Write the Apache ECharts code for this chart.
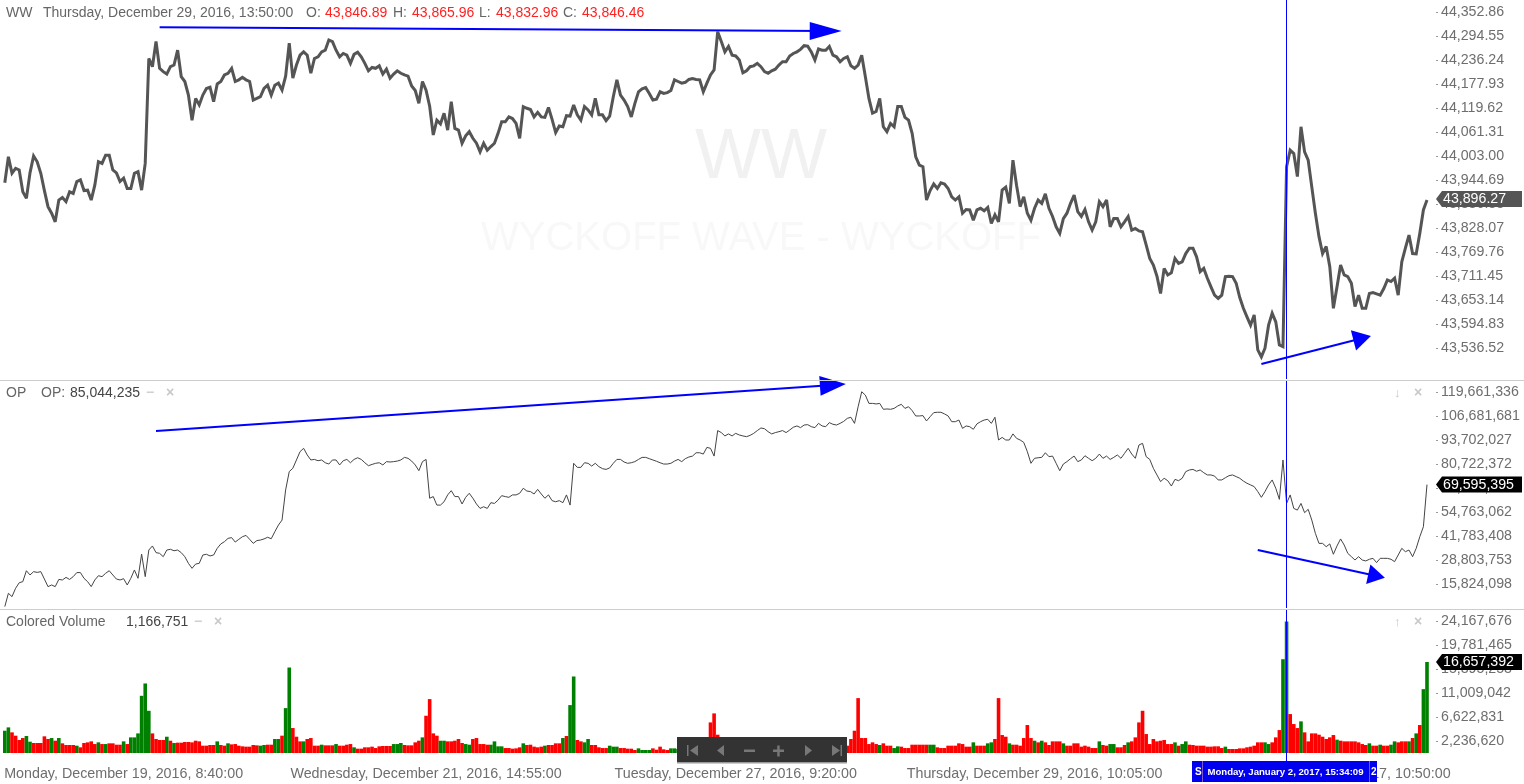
<!DOCTYPE html>
<html><head><meta charset="utf-8">
<style>html,body{margin:0;padding:0;background:#fff}#c{width:1524px;height:784px}</style>
<script src="https://cdn.jsdelivr.net/npm/echarts@6/dist/echarts.min.js"></script>
</head><body><div id="c"></div>
<script>
const wwValues = [43938,44001,43961,43973,43969,43916,43900,43962,44003,43989,43961,43919,43880,43864,43843,43896,43902,43892,43916,43912,43941,43945,43919,43920,43896,43932,43989,43985,44005,44005,43969,43962,43941,43949,43924,43924,43961,43965,43920,43985,44240,44220,44281,44216,44208,44202,44220,44224,44260,44196,44184,44151,44090,44143,44127,44151,44167,44170,44135,44178,44184,44200,44204,44216,44184,44188,44194,44188,44184,44139,44143,44147,44167,44175,44151,44175,44180,44163,44197,44277,44192,44224,44248,44256,44248,44204,44240,44244,44256,44260,44285,44281,44260,44244,44252,44248,44228,44250,44255,44244,44228,44210,44218,44216,44222,44202,44214,44192,44202,44210,44204,44200,44197,44173,44162,44131,44184,44163,44124,44054,44090,44081,44107,44066,44135,44070,44066,44034,44052,44062,44046,44034,44013,44034,44017,44026,44034,44058,44086,44086,44098,
44094,44082,44046,44123,44119,44116,44098,44109,44098,44097,44121,44092,44060,44076,44074,44101,44100,44127,44103,44090,44123,44115,44103,44143,44103,44103,44089,44100,44147,44188,44151,44139,44123,44098,44131,44159,44166,44169,44155,44139,44141,44159,44155,44157,44162,44188,44184,44180,44182,44189,44191,44189,44188,44159,44180,44200,44212,44305,44281,44256,44269,44248,44246,44236,44205,44210,44220,44222,44228,44220,44208,44204,44210,44214,44224,44232,44232,44246,44252,44256,44262,44271,44270,44256,44236,44263,44260,44260,44269,44248,44244,44232,44240,44244,44222,44216,44224,44248,44196,44143,44107,44111,44143,44074,44062,44082,44074,44123,44123,44097,44090,44058,44001,43981,43977,43896,43919,43935,43924,43938,43935,43924,43904,43896,43904,43864,43873,43872,43847,43872,43876,43870,43878,43839,43860,43843,43920,43927,43888,43993,43932,43880,
43904,43864,43847,43876,43896,43888,43911,43876,43856,43831,43815,43851,43864,43888,43908,43868,43856,43873,43843,43823,43843,43892,43880,43896,43831,43851,43851,43831,43843,43856,43823,43827,43821,43819,43787,43754,43738,43711,43669,43730,43714,43719,43754,43742,43746,43766,43779,43779,43758,43722,43730,43706,43685,43665,43657,43665,43710,43711,43710,43694,43659,43633,43612,43592,43617,43532,43515,43536,43592,43621,43600,43544,43540,43977,44017,44009,43953,44074,44013,43993,43928,43864,43807,43766,43783,43734,43633,43685,43738,43714,43710,43694,43637,43665,43633,43633,43669,43671,43668,43665,43681,43702,43698,43706,43665,43746,43779,43811,43766,43765,43815,43872,43896.27];

const opMillions = [3.6,10.8,9.0,13.5,16.5,17.1,23.0,20.7,22.5,22.1,22.5,18.5,14.4,15.3,14.4,18.3,18.0,19.4,18.3,19.8,22.0,22.0,18.9,17.1,14.4,18.0,20.3,19.8,21.6,23.0,20.7,18.5,18.0,18.7,15.3,18.9,23.4,18.9,32.0,19.8,34.2,36.4,32.8,32.4,30.6,34.2,34.6,33.8,34.2,32.8,30.6,27.0,24.3,26.6,27.0,31.5,31.9,31.0,31.5,35.1,37.5,38.7,40.5,40.9,38.5,40.0,41.4,42.1,40.0,37.8,39.3,39.6,40.2,41.1,40.3,44.1,47.7,50.4,66.7,76.6,78.4,82.9,87.4,89.2,85.6,82.9,83.2,82.5,82.9,81.4,80.7,82.9,82.9,80.2,82.5,83.2,81.4,83.2,84.1,83.2,81.4,79.8,80.5,81.1,81.4,80.2,82.0,81.8,82.0,82.3,82.9,84.3,83.8,82.3,80.2,77.1,82.0,83.2,62.2,63.1,58.5,58.5,60.3,64.0,66.3,63.1,63.1,59.1,62.7,64.9,62.2,59.1,56.7,57.6,56.7,59.8,59.4,61.2,63.6,63.1,62.7,
64.0,64.0,64.9,67.6,66.1,65.8,64.5,67.0,64.5,62.2,64.0,60.9,60.3,60.9,59.8,64.0,58.5,81.1,78.9,78.9,81.4,81.1,79.6,81.1,79.3,78.2,77.8,78.6,81.1,83.2,83.2,81.8,81.1,81.4,82.0,83.2,84.3,84.3,83.6,82.9,82.2,81.4,80.7,80.7,81.1,82.3,83.2,82.0,83.6,84.5,85.0,86.8,86.8,86.1,89.7,89.2,85.0,98.8,97.7,95.9,97.0,95.9,97.3,96.4,95.9,95.5,96.2,97.3,98.8,100.2,99.8,98.2,97.0,97.7,98.2,98.8,97.7,99.1,100.6,101.3,100.4,101.8,102.0,100.9,100.4,102.7,101.3,100.9,103.1,102.2,101.8,102.7,103.8,105.4,106.0,102.7,111.7,119.8,118.0,113.5,113.5,113.2,113.5,110.3,110.5,110.3,110.8,112.1,113.0,110.8,111.7,109.6,106.7,106.7,106.9,104.0,106.3,108.5,108.7,108.7,107.8,106.7,103.6,103.6,104.5,100.0,101.3,100.9,99.5,102.4,103.6,104.5,104.9,102.7,106.0,93.7,95.1,93.7,93.7,97.0,94.6,93.7,
92.4,87.4,81.1,83.8,84.1,84.3,86.8,84.7,85.0,81.1,77.1,80.7,82.0,83.6,85.0,82.0,82.9,85.2,83.8,82.5,83.8,86.1,83.8,85.0,83.2,84.3,85.6,83.8,86.5,89.2,86.1,83.8,91.0,91.9,84.7,83.2,78.4,74.8,71.2,73.0,71.7,68.8,72.4,71.7,73.0,76.6,77.5,77.8,76.8,77.5,76.0,74.8,74.8,74.2,72.1,72.1,73.3,74.4,74.8,73.9,73.0,71.5,70.3,69.4,68.5,65.8,62.7,65.8,69.4,72.1,67.6,61.6,82.9,59.4,64.0,56.7,55.8,59.4,54.4,56.2,50.4,43.2,37.8,37.8,36.0,37.5,31.9,36.4,40.2,36.9,32.4,30.6,28.8,30.6,28.8,28.3,29.2,29.7,27.4,29.7,29.7,29.7,29.2,27.9,31.5,35.1,33.3,34.2,30.6,35.1,41.4,46.8,69.6];

const volMillions = [4.08,4.69,3.78,3.17,2.38,2.74,3.11,2.07,1.83,1.83,1.83,3.05,2.56,2.74,2.25,2.74,1.77,1.46,1.46,1.46,1.34,1.04,1.83,1.95,2.13,1.64,1.95,1.64,1.64,1.77,1.77,1.52,1.52,2.13,1.64,2.86,2.86,3.59,10.47,12.73,7.73,3.59,2.56,2.38,2.38,2.98,2.25,1.83,1.89,1.89,2.01,2.01,1.95,2.25,2.13,1.34,1.34,1.46,1.46,2.13,1.46,1.34,1.77,1.58,1.64,1.34,1.22,1.16,1.16,1.46,1.40,1.34,1.46,1.52,1.52,2.56,2.56,3.17,8.22,15.65,4.57,2.98,2.13,2.13,2.56,2.74,1.34,1.34,1.52,1.40,1.40,1.40,1.64,1.34,1.34,1.52,1.64,1.04,0.79,0.79,1.04,1.04,1.16,0.91,1.22,1.28,1.28,1.28,1.64,1.64,1.83,1.46,1.40,1.40,1.95,2.25,2.86,6.82,9.87,3.59,3.17,2.25,2.25,2.13,2.13,2.25,2.56,1.83,1.64,1.52,2.56,2.74,1.64,1.64,1.52,1.52,2.13,1.22,1.22,0.91,0.91,
0.79,0.85,1.04,1.77,1.46,1.52,1.16,1.04,1.16,1.34,1.46,1.46,1.77,1.77,2.74,3.11,8.77,14.01,2.38,2.13,1.95,2.56,1.46,1.46,1.04,0.91,0.91,1.34,1.16,1.16,0.91,0.91,0.79,0.79,0.55,0.85,0.55,0.55,0.55,0.85,0.61,1.16,0.67,0.55,0.85,0.85,0.73,0.73,0.79,0.73,0.91,0.79,0.79,0.91,1.04,5.60,7.25,3.35,2.56,1.95,1.52,1.64,1.34,1.16,0.91,1.04,1.34,1.46,1.16,0.91,1.04,1.22,1.34,1.04,0.91,1.16,1.34,1.46,1.22,1.04,0.91,1.16,1.40,1.52,1.28,1.04,1.34,1.16,1.46,1.64,1.34,1.52,1.40,1.34,2.56,4.08,10.05,2.74,2.74,1.64,1.95,1.64,1.46,1.77,1.34,1.34,0.91,1.22,1.16,0.91,0.91,1.52,1.52,1.52,1.52,1.52,1.52,1.52,1.04,0.91,0.91,1.34,1.34,1.34,1.77,1.64,1.16,1.16,1.95,1.34,1.34,1.34,1.77,1.95,2.56,10.05,3.29,2.98,1.77,1.52,1.52,1.34,
2.74,5.12,2.74,2.25,1.95,2.25,1.95,1.46,2.13,2.13,2.13,1.77,1.34,1.34,1.77,1.77,1.16,1.34,1.16,0.91,0.91,2.13,1.46,1.34,1.64,1.64,1.04,1.04,1.46,1.95,2.13,2.86,5.60,7.73,3.47,1.64,2.56,2.13,2.25,2.38,1.64,1.64,1.95,1.34,1.64,2.13,1.52,1.46,1.34,1.34,1.34,1.16,1.16,1.22,1.22,0.91,1.16,0.73,0.73,0.73,0.85,0.85,1.04,1.16,1.34,1.95,1.95,1.95,1.64,1.95,2.86,4.20,17.17,24.06,7.13,5.30,4.57,5.79,3.78,2.13,3.59,3.59,3.35,2.98,2.56,2.86,3.29,2.44,2.25,2.13,2.13,2.13,2.13,1.95,1.64,1.46,1.77,1.34,1.34,1.52,1.34,1.34,1.52,2.13,1.95,2.13,2.13,2.13,2.74,3.59,5.12,11.69,16.66];

const greenBars = [0,1,6,7,13,15,20,26,28,33,35,36,37,38,39,40,45,47,59,62,71,72,75,76,78,79,83,88,92,97,108,109,110,116,121,122,128,129,135,136,137,138,144,150,155,157,158,161,162,168,169,170,176,177,178,179,185,186,187,190,193,202,209,215,221,226,231,243,247,248,257,258,269,273,274,279,286,288,294,304,307,308,312,325,327,328,339,350,351,355,356,360,370,379,382,385,386,390,392,394,395];

const priceTicks = [44352.86,44294.55,44236.24,44177.93,44119.62,44061.31,44003.00,43944.69,43886.38,43828.07,43769.76,43711.45,43653.14,43594.83,43536.52];
const opTicks = [119661336,106681681,93702027,80722372,67742717,54763062,41783408,28803753,15824098];
const volTicks = [24167676,19781465,15395253,11009042,6622831,2236620];
const xTickIndex = [33,117,203,286,370];
const xTickLabels = ["Monday, December 19, 2016, 8:40:00","Wednesday, December 21, 2016, 14:55:00","Tuesday, December 27, 2016, 9:20:00","Thursday, December 29, 2016, 10:05:00","Tuesday, January 3, 2017, 10:50:00"];
const cursorIndex = 356;
const priceArrows = [[43,44316,228,44306.7,18,32],[349,43497.6,377,43560.3,21,18]];
const opArrows = [[42,98570000,230,123450000,20,26],[348,34210000,381,20150000,20,17]];

const SLOTS = 398, FONT = '"Liberation Sans", Arial, sans-serif', BLUE = '#0000ff';
const categories = Array.from({length:SLOTS},(_,i)=>{const k=xTickIndex.indexOf(i);return k>=0?xTickLabels[k]:String(i);});
const opValues = opMillions.map(v=>Math.round(v*1e6));
const greenSet = new Set(greenBars);
const volValues = volMillions.map((v,i)=>({value:Math.round(v*1e6),itemStyle:{color:greenSet.has(i)?'#008000':'#ff0000'}}));

const grids = [
  {left:3,width:1433,top:0,height:379},
  {left:3,width:1433,top:381,height:227},
  {left:3,width:1433,top:610,height:143}
];
function xAxis(idx,show){return {type:'category',gridIndex:idx,data:categories,boundaryGap:true,
  axisLine:{show:false},axisTick:{show:false},splitLine:{show:false},
  axisLabel:{show:show,interval:(i)=>xTickIndex.includes(i),color:'#6e6e6e',fontFamily:FONT,fontSize:14.3,margin:14}};}
function yAxis(idx,min,max,ticks,dec){return {type:'value',gridIndex:idx,position:'right',min:min,max:max,scale:true,
  axisLine:{show:false},splitLine:{show:false},
  axisTick:{show:true,length:2,customValues:ticks,lineStyle:{color:'#999'}},
  axisLabel:{customValues:ticks,color:'#6e6e6e',fontFamily:FONT,fontSize:14.2,margin:5,padding:[4,0,0,0],
    formatter:v=>Number(v).toLocaleString('en-US',{minimumFractionDigits:dec,maximumFractionDigits:dec})}};}
function marks(arrows){
  const data = arrows.map(a=>[
    {coord:[a[0],a[1]],symbol:'none'},
    {coord:[a[2],a[3]],symbol:'triangle',symbolSize:[a[4],a[5]]}
  ]);
  data.push({xAxis:cursorIndex,symbol:'none',lineStyle:{width:1}});
  return {silent:true,animation:false,symbol:'none',label:{show:false},emphasis:{disabled:true},
    lineStyle:{color:BLUE,width:2,type:'solid',opacity:1},data:data};
}
function txt(x,y,s,fill,size,extra){return Object.assign({type:'text',z:100,silent:true,
  style:{x:x,y:y,text:s,fill:fill||'#666',font:(size||14)+'px '+FONT,textVerticalAlign:'middle'}},extra||{});}
function bold(x,y,s,fill,size){return {type:'text',z:100,silent:true,style:{x:x,y:y,text:s,fill:fill,font:'bold '+size+'px '+FONT,textVerticalAlign:'middle'}};}
function tag(y,s,color){return [
  {type:'polygon',z:90,silent:true,shape:{points:[[1436,y],[1442,y-8],[1522,y-8],[1522,y+8],[1442,y+8]]},style:{fill:color}},
  txt(1443,y+0.5,s,'#fff',14.2)];}
function hline(y){return {type:'line',z:50,silent:true,shape:{x1:0,y1:y,x2:1524,y2:y},style:{stroke:'#cdcdcd',lineWidth:1}};}
function poly(pts){return {type:'polygon',z:101,silent:true,shape:{points:pts},style:{fill:'#777'}};}
function rect(x,y,w,h,c){return {type:'rect',z:100,silent:true,shape:{x:x,y:y,width:w,height:h},style:{fill:c}};}

const graphics = [
  {type:'text',z:0,silent:true,style:{x:761,y:159,text:'WW',fill:'#f1f1f1',font:'70px '+FONT,textAlign:'center',textVerticalAlign:'middle'}},
  {type:'text',z:0,silent:true,style:{x:761,y:239,text:'WYCKOFF WAVE - WYCKOFF',fill:'#f8f8f8',font:'40px '+FONT,textAlign:'center',textVerticalAlign:'middle'}},
  hline(380.5),hline(609.5),
  txt(6,13,'WW'),txt(43,13,'Thursday, December 29, 2016, 13:50:00'),
  txt(306,13,'O:'),txt(325,13,'43,846.89','#ff2020'),
  txt(393,13,'H:'),txt(412,13,'43,865.96','#ff2020'),
  txt(479,13,'L:'),txt(496,13,'43,832.96','#ff2020'),
  txt(563,13,'C:'),txt(582,13,'43,846.46','#ff2020'),
  txt(6,393,'OP'),txt(41,393,'OP:'),txt(70,393,'85,044,235','#444'),
  bold(146,393,'−','#d0d0d0',14),bold(166,393,'×','#c8c8c8',14),
  bold(1394,393,'↓','#c8c8c8',13),bold(1414,393,'×','#c8c8c8',14),
  txt(6,622,'Colored Volume'),txt(126,622,'1,166,751','#444'),
  bold(194,622,'−','#d0d0d0',14),bold(214,622,'×','#c8c8c8',14),
  bold(1394,622,'↑','#c8c8c8',13),bold(1414,622,'×','#c8c8c8',14),
  ...tag(199,'43,896.27','#555555'),
  ...tag(484.5,'69,595,395','#000000'),
  ...tag(662,'16,657,392','#000000'),
  rect(677,737,170,26,'#333333'),rect(677,762,170,1.5,'#9a9a9a'),
  rect(687,745,1.5,11,'#777'),poly([[690,750.5],[698,745],[698,756]]),
  poly([[717,750.5],[724,745],[724,756]]),
  rect(744,749.5,11,2.5,'#777'),
  rect(773,749.5,11,2.5,'#777'),rect(777.2,745.5,2.5,11,'#777'),
  poly([[805,745],[805,756],[812,750.5]]),
  poly([[832,745],[832,756],[840,750.5]]),rect(840.5,745,1.5,11,'#777'),
  {type:'line',z:95,silent:true,shape:{x1:1286.5,y1:753,x2:1286.5,y2:761},style:{stroke:BLUE,lineWidth:1}},
  rect(1192,761,185,21,'#0000ee'),
  rect(1202,761,1,21,'#7a5ad0'),rect(1369,761,1,21,'#7a5ad0'),
  bold(1195,772,'S','#fff',10),bold(1371,772,'2','#fff',10),
  {type:'text',z:101,silent:true,style:{x:1285.5,y:772,text:'Monday, January 2, 2017, 15:34:09',fill:'#fff',font:'bold 9.6px '+FONT,textAlign:'center',textVerticalAlign:'middle'}}
];

const chart = echarts.init(document.getElementById('c'),null,{renderer:'canvas',width:1524,height:784});
chart.setOption({
  animation:false,backgroundColor:'#fff',
  grid:grids,
  xAxis:[xAxis(0,false),xAxis(1,false),xAxis(2,true)],
  yAxis:[yAxis(0,43461.2,44382.0,priceTicks,2),yAxis(1,2844432,125610345,opTicks,0),yAxis(2,0,26178025,volTicks,0)],
  series:[
    {type:'line',name:'WW',xAxisIndex:0,yAxisIndex:0,data:wwValues,showSymbol:false,symbol:'none',z:3,
      lineStyle:{color:'#555555',width:3,join:'miter',miterLimit:3},markLine:marks(priceArrows)},
    {type:'line',name:'OP',xAxisIndex:1,yAxisIndex:1,data:opValues,showSymbol:false,symbol:'none',z:3,
      lineStyle:{color:'#444444',width:1},markLine:marks(opArrows)},
    {type:'bar',name:'Colored Volume',xAxisIndex:2,yAxisIndex:2,data:volValues,barWidth:'100%',barGap:'0%',z:3,
      markLine:marks([])}
  ],
  graphic:{elements:graphics}
});
</script></body></html>
